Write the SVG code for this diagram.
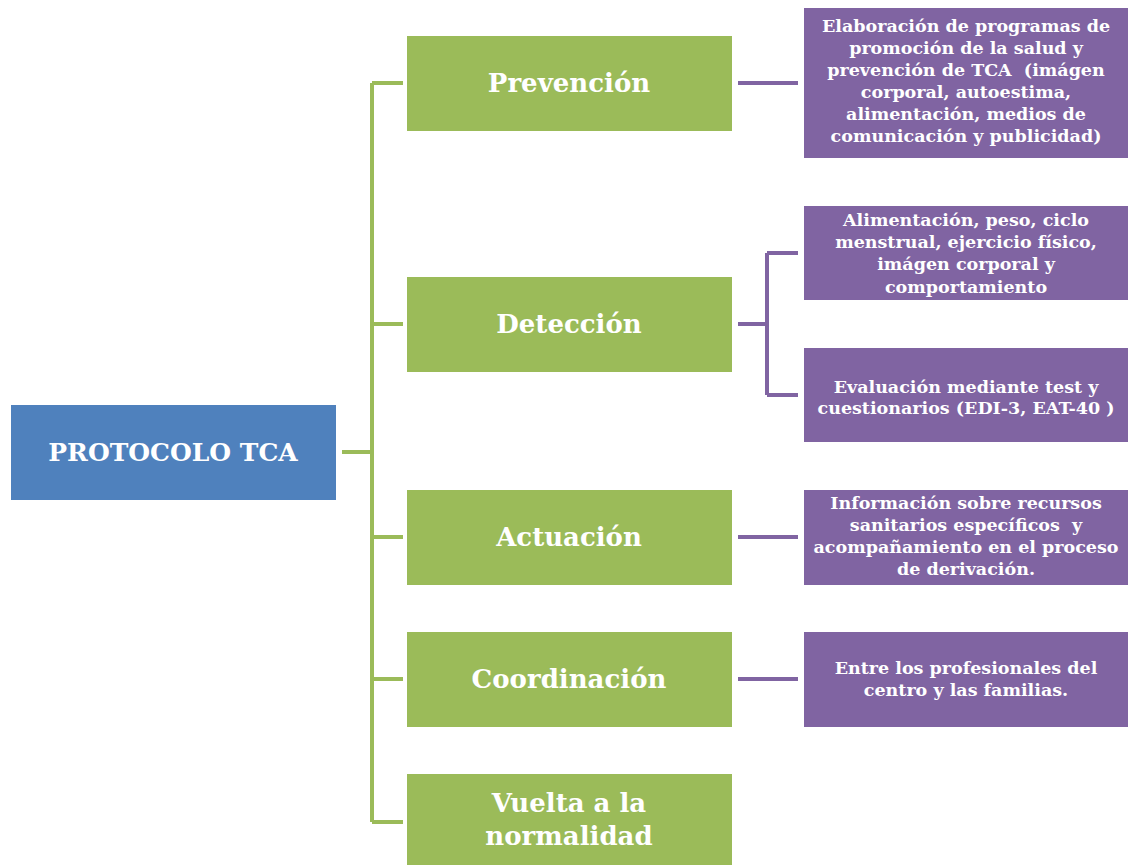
<svg xmlns="http://www.w3.org/2000/svg" width="1136" height="865" viewBox="0 0 1136 865">
<style>
.blue{fill:#4F81BD}
.green{fill:#9BBB59}
.purple{fill:#8064A2}
text{font-family:"DejaVu Serif","Liberation Serif",serif;font-weight:bold;fill:#fff;text-anchor:middle}
.big{font-size:26px}
.small{font-size:17.5px}
.gl{fill:none;stroke:#9BBB59;stroke-width:4;stroke-linejoin:round}
.pl{fill:none;stroke:#8064A2;stroke-width:4;stroke-linejoin:round}
</style>
<rect width="1136" height="865" fill="#fff"/>
<g id="connectors">
<path class="gl" d="M342 452H372M372 83V822M372 83H403M372 324H403M372 537H403M372 679H403M372 822H403"/>
<path class="pl" d="M738 83H798M738 324H767M767 253V395M767 253H798M767 395H798M738 537H798M738 679H798"/>
</g>
<g id="root"><rect class="blue" x="11" y="405" width="325" height="95"/><text class="big" x="173" y="461" style="font-size:25px">PROTOCOLO TCA</text></g>
<g id="prevencion"><rect class="green" x="407" y="36" width="325" height="95"/><text class="big" x="569" y="92">Prevención</text></g>
<g id="deteccion"><rect class="green" x="407" y="277" width="325" height="95"/><text class="big" x="569" y="333">Detección</text></g>
<g id="actuacion"><rect class="green" x="407" y="490" width="325" height="95"/><text class="big" x="569" y="546">Actuación</text></g>
<g id="coordinacion"><rect class="green" x="407" y="632" width="325" height="95"/><text class="big" x="569" y="688">Coordinación</text></g>
<g id="vuelta"><rect class="green" x="407" y="774" width="325" height="95"/><text class="big" x="569" y="812">Vuelta a la</text><text class="big" x="569" y="845">normalidad</text></g>
<g id="p1"><rect class="purple" x="804" y="8" width="324" height="150"/>
<text class="small" x="966" y="32">Elaboración de programas de</text>
<text class="small" x="966" y="54">promoción de la salud y</text>
<text class="small" x="966" y="76" xml:space="preserve">prevención de TCA  (imágen</text>
<text class="small" x="966" y="98">corporal, autoestima,</text>
<text class="small" x="966" y="120">alimentación, medios de</text>
<text class="small" x="966" y="142">comunicación y publicidad)</text>
</g>
<g id="d1"><rect class="purple" x="804" y="206" width="324" height="94"/>
<text class="small" x="966" y="226">Alimentación, peso, ciclo</text>
<text class="small" x="966" y="248">menstrual, ejercicio físico,</text>
<text class="small" x="966" y="270">imágen corporal y</text>
<text class="small" x="966" y="293">comportamiento</text>
</g>
<g id="d2"><rect class="purple" x="804" y="348" width="324" height="94"/>
<text class="small" x="966" y="393">Evaluación mediante test y</text>
<text class="small" x="966" y="414">cuestionarios (EDI-3, EAT-40 )</text>
</g>
<g id="a1"><rect class="purple" x="804" y="490" width="324" height="95"/>
<text class="small" x="966" y="509">Información sobre recursos</text>
<text class="small" x="966" y="531" xml:space="preserve">sanitarios específicos  y</text>
<text class="small" x="966" y="553">acompañamiento en el proceso</text>
<text class="small" x="966" y="575">de derivación.</text>
</g>
<g id="c1"><rect class="purple" x="804" y="632" width="324" height="95"/>
<text class="small" x="966" y="674">Entre los profesionales del</text>
<text class="small" x="966" y="696">centro y las familias.</text>
</g>
</svg>
